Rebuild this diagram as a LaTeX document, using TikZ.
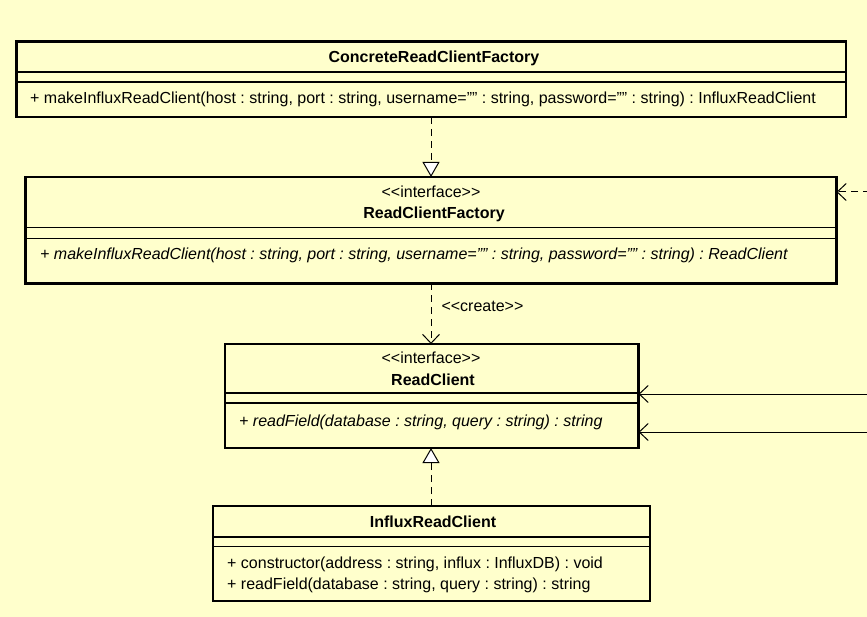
\documentclass[tikz,border=0pt]{standalone}
\usepackage{fontspec}
\setmainfont{Liberation Sans}
\usetikzlibrary{arrows.meta}
\definecolor{paper}{HTML}{FFFFCC}
\frenchspacing

\begin{document}
\begin{tikzpicture}[x=1pt,y=-1pt,
  cls/.style={draw, line width=2.8pt, fill=paper, anchor=north west, inner sep=0pt, outer sep=0pt},
  sep/.style={line width=1.2pt},
  txt/.style={font=\fontsize{16}{18}\selectfont, inner sep=0pt, anchor=base},
  ttl/.style={txt, font=\fontsize{16}{18}\selectfont\bfseries},
  op/.style={txt, anchor=base west},
  iop/.style={op, font=\fontsize{16}{18}\selectfont\itshape},
  realize/.style={line width=1pt, dash pattern=on 7pt off 5pt,
    -{Triangle[length=15pt, width=17pt, fill=white, line width=1pt]}},
  depend/.style={line width=1pt, dash pattern=on 7pt off 5pt,
    -{Straight Barb[length=9pt, width=17pt, line width=1pt]}},
  assoc/.style={line width=1pt, -{Straight Barb[length=9pt, width=17pt, line width=1pt]}}]

% page
\fill[paper] (0,0) rectangle (867,617);
\useasboundingbox (0,0) rectangle (867,617);

% ConcreteReadClientFactory
\node[cls, minimum width=829.5pt, minimum height=75.5pt] (crf) at (16.5,41.5) {};
\draw[sep] ([yshift=-30.5pt]crf.north west) -- ([yshift=-30.5pt]crf.north east);
\draw[sep] ([yshift=-40.5pt]crf.north west) -- ([yshift=-40.5pt]crf.north east);
\node[ttl] (crfname) at (434,63) {ConcreteReadClientFactory};
\node[op] (crfop) at (30,104) {+ makeInfluxReadClient(host : string, port : string, username="{}" : string, password="{}" : string) : InfluxReadClient};

% ReadClientFactory
\node[cls, minimum width=811pt, minimum height=106.5pt] (rcf) at (25.5,177) {};
\draw[sep] ([yshift=-50.5pt]rcf.north west) -- ([yshift=-50.5pt]rcf.north east);
\draw[sep] ([yshift=-61.5pt]rcf.north west) -- ([yshift=-61.5pt]rcf.north east);
\node[txt] (rcfst) at (431,197.5) {<{}<interface>{}>};
\node[ttl] (rcfname) at (434,219) {ReadClientFactory};
\node[iop] (rcfop) at (40,260) {+ makeInfluxReadClient(host : string, port : string, username="{}" : string, password="{}" : string) : ReadClient};

% ReadClient
\node[cls, minimum width=413.5pt, minimum height=104pt] (rc) at (225,344) {};
\draw[sep] ([yshift=-49pt]rc.north west) -- ([yshift=-49pt]rc.north east);
\draw[sep] ([yshift=-59pt]rc.north west) -- ([yshift=-59pt]rc.north east);
\node[txt] (rcst) at (431,363.5) {<{}<interface>{}>};
\node[ttl] (rcname) at (433,385) {ReadClient};
\node[iop] (rcop) at (239,426) {+ readField(database : string, query : string) : string};

% InfluxReadClient
\node[cls, minimum width=437pt, minimum height=95pt] (irc) at (213,506) {};
\draw[sep] ([yshift=-31pt]irc.north west) -- ([yshift=-31pt]irc.north east);
\draw[sep] ([yshift=-40.5pt]irc.north west) -- ([yshift=-40.5pt]irc.north east);
\node[ttl] (ircname) at (433,527.5) {InfluxReadClient};
\node[op] (ircop1) at (227,568) {+ constructor(address : string, influx : InfluxDB) : void};
\node[op] (ircop2) at (227,589) {+ readField(database : string, query : string) : string};

% connectors
\draw[realize] (crf.south -| 431,0) -- (rcf.north -| 431,0);
\draw[depend] (rcf.south -| 431,0) -- node[txt, anchor=base west, xshift=10pt, yshift=2pt] (create) {<{}<create>{}>} (rc.north -| 431,0);
\draw[realize] (irc.north -| 431,0) -- (rc.south -| 431,0);

% connectors entering from the right
\coordinate (in1) at (867,192);
\coordinate (in2) at (867,394);
\coordinate (in3) at (867,432);
\draw[depend, dash phase=3pt] (in1) -- (rcf.east |- in1);
\draw[assoc] (in2) -- (rc.east |- in2);
\draw[assoc] (in3) -- (rc.east |- in3);
\end{tikzpicture}
\end{document}
